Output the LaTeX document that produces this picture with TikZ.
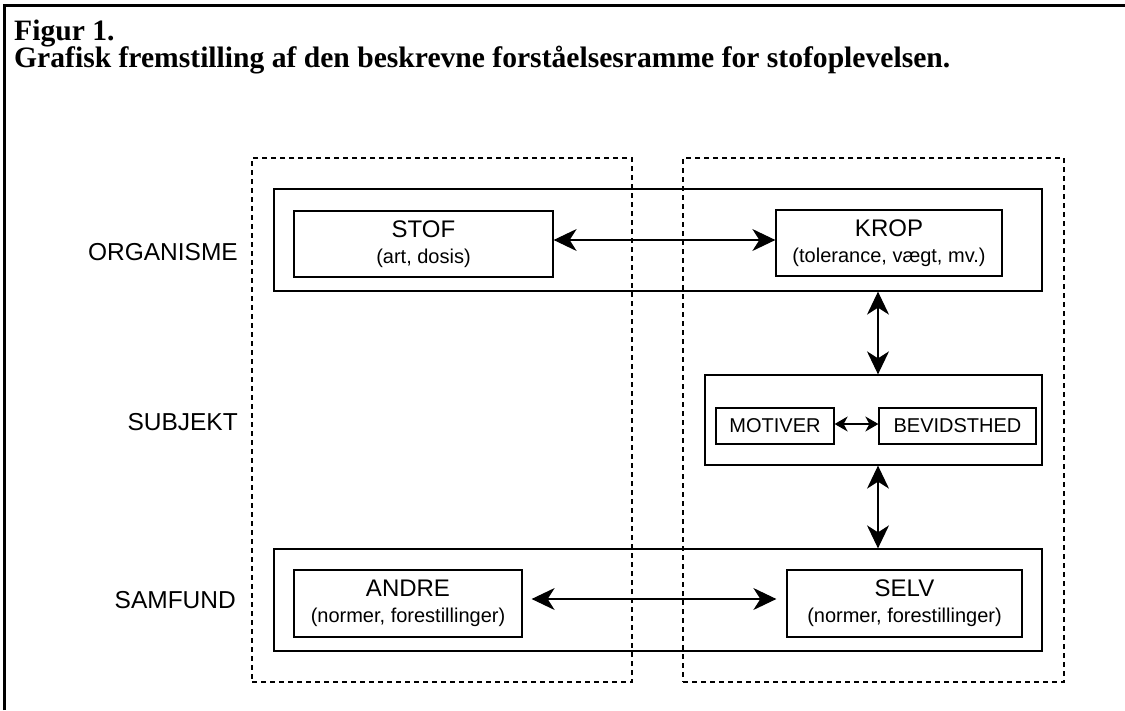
\documentclass[tikz,border=0pt]{standalone}
\usepackage{fontspec}
\setmainfont{Liberation Serif}
\setsansfont{Liberation Sans}
\usetikzlibrary{arrows.meta,calc}
\newcommand\headtxt[1]{{\fontsize{24}{26}\selectfont #1}}
\tikzset{
  box/.style={draw, line width=1.3pt, inner sep=0pt, align=center, font=\sffamily\fontsize{20}{26}\selectfont},
  grp/.style={draw, dash pattern=on 5pt off 4pt, line width=1.2pt, inner sep=0pt},
  lbl/.style={font=\sffamily\fontsize{24.5}{26}\selectfont, anchor=east, inner sep=0pt},
  arr/.style={{Stealth[length=23pt,width=22pt,inset=7pt]}-{Stealth[length=23pt,width=22pt,inset=7pt]}, line width=1.2pt},
  sarr/.style={{Stealth[length=13pt,width=15pt,inset=4pt]}-{Stealth[length=13pt,width=15pt,inset=4pt]}, line width=1.1pt},
  ttl/.style={font=\bfseries\fontsize{29.6}{32}\selectfont, anchor=base west, inner sep=0pt},
}
\begin{document}
\begin{tikzpicture}[x=1pt,y=-1pt]
\useasboundingbox (0,0) rectangle (1125,710);
% frame
\draw[line width=3pt] (4,710) -- (4,5) -- (1125,5);
% title
\node[ttl] (t1) at (14,40) {Figur 1.};
\node[ttl] (t2) at (14,67.5) {Grafisk fremstilling af den beskrevne forståelsesramme for stofoplevelsen.};
% dashed groups
\node[grp, minimum width=380, minimum height=524] (dl) at (442,420) {};
\node[grp, minimum width=381, minimum height=524] (dr) at (873.5,420) {};
% organisme
\node[box, minimum width=768, minimum height=102] (org) at (658,240) {};
\node[box, minimum width=259, minimum height=66] (stof) at (423.5,244) {\headtxt{STOF}\\(art, dosis)};
\node[box, minimum width=226, minimum height=66] (krop) at (889,243) {\headtxt{KROP}\\(tolerance, vægt, mv.)};
% subjekt
\node[box, minimum width=337, minimum height=90] (subj) at (873.5,420) {};
\node[box, minimum width=118, minimum height=36] (mot) at (775,426) {MOTIVER};
\node[box, minimum width=157, minimum height=36] (bev) at (957.5,426) {BEVIDSTHED};
% samfund
\node[box, minimum width=768, minimum height=102] (samf) at (658,600) {};
\node[box, minimum width=228, minimum height=67] (andre) at (408,603.5) {\headtxt{ANDRE}\\(normer, forestillinger)};
\node[box, minimum width=235, minimum height=67] (selv) at (904.5,603.5) {\headtxt{SELV}\\(normer, forestillinger)};
% labels
\node[lbl] (lorg) at (238,252) {ORGANISME};
\node[lbl] (lsub) at (238,422) {SUBJEKT};
\node[lbl] (lsam) at (236,600) {SAMFUND};
% arrows
\draw[arr] ($(stof.east)+(0,-4)$) -- ($(krop.west)+(0,-3)$);
\draw[arr] ($(andre.east)+(9,-4.5)$) -- ($(selv.west)+(-10,-4.5)$);
\draw[sarr] ($(mot.east)+(0,-2)$) -- ($(bev.west)+(0,-2)$);
\coordinate (vx) at (878,0);
\draw[arr] (org.south -| vx) -- (subj.north -| vx);
\draw[arr] (subj.south -| vx) -- (samf.north -| vx);
\end{tikzpicture}
\end{document}
